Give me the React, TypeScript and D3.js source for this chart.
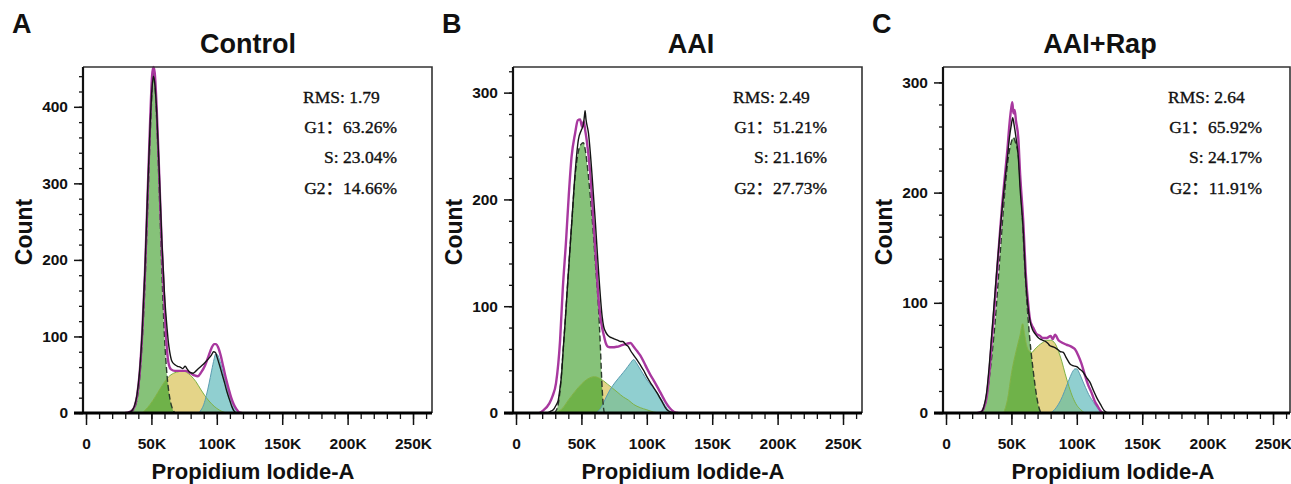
import React, { useEffect, useRef } from 'react';
import * as d3 from 'd3';

type Pt = [number, number];

// x in thousands (K) of Propidium Iodide-A, y = count

// A - Control
const controlFit: Pt[] = [[30,0],[33,1],[35,3],[37,8],[39,22],[41,52],[43,105],[45,180],[47,280],[49,380],[50.5,440],[51.5,452],[52.5,445],[54,400],[56,310],[58,215],[60,140],[61.5,92],[62.5,72],[63.5,62],[65,57],[68,55],[72,55],[76,55],[80,52],[83,49],[85.5,48],[88,53],[91,62],[94,76],[96,85],[98,90],[99.5,90],[101,86],[103,75],[105,60],[107,45],[109,32],[111,20],[113,11],[115,5],[117,1],[119,0]];
const controlData: Pt[] = [[30,0],[33,1],[35,3],[37,9],[39,24],[41,55],[43,108],[45,185],[47,285],[49,375],[50.5,425],[51.5,440],[52.5,432],[54,395],[56,315],[58,225],[60,155],[62,110],[63,92],[64,80],[65.6,68],[68,63],[70,61],[72,60],[74,58],[75.8,61],[77.5,57],[79.6,53],[82,52],[83.5,54],[86,58],[88.6,62],[91,66],[93.7,71],[96,76],[97.5,80],[99,79],[100,74],[102,63],[104,51],[106,39],[107.7,28],[110,16],[111.6,8],[113,3],[115,0]];
const controlG1: Pt[] = [[33,0],[35,2],[37,6],[39,18],[41,45],[43,95],[45,165],[47,260],[49,360],[50.5,420],[51.5,445],[52.5,435],[54,385],[56,290],[58,185],[60,100],[62,48],[64,20],[66,6],[68,0]];
const controlS: Pt[] = [[43,0],[47,7],[51,16],[55,27],[59,38],[63,47],[67,52],[71,54],[74,55],[77,53],[80,49],[84,41],[88,30],[92,20],[96,12],[100,6],[104,2],[108,0]];
const controlG2: Pt[] = [[86,0],[88,4],[90,11],[92,23],[94,38],[96,55],[98,71],[99,77],[100,77],[102,70],[104,58],[106,45],[108,33],[110,22],[112,13],[114,6],[116,2],[118,0]];
const controlStats = ['RMS: 1.79', 'G1：63.26%', 'S: 23.04%', 'G2：14.66%'];

// B - AAI
const aaiFit: Pt[] = [[18,0],[20.4,2],[25.5,9],[28,16],[30.6,28],[33.7,68],[35.7,115],[38.3,162],[40.3,203],[42.5,240],[45.2,262],[47.2,274],[49,275],[50.5,268],[51.8,273],[53,264],[54.1,255],[56.7,225],[59.3,178],[61.8,131],[63,108],[64.3,92],[65.5,82],[66.9,74],[68.5,66],[70.5,62],[73,61.5],[77,62],[81,63.5],[85,65],[87.5,65.5],[90,62],[92.5,58],[95,54],[98,47],[100,42],[102.6,36],[106,29],[110,20],[114,11],[118,4],[121,1],[124,0]];
const aaiData: Pt[] = [[24,0],[27,2],[28.5,3],[30.5,7],[32.3,12],[33.5,22],[34.9,37],[36,58],[37.5,84],[40,131],[42.6,178],[45.2,225],[47.7,256],[50,265],[51.5,270],[52.3,278],[52.8,283],[53.5,275],[55.4,262],[58,225],[60.7,178],[63.2,131],[65.9,90],[67,81],[68.5,76],[70,73],[72,71],[74,70],[76,69],[78,68],[80,67],[81.7,67],[84,64],[86,62],[87.3,59],[90,54],[92.4,50],[95,45],[97.5,40],[100,34],[104,26],[107.7,19],[111,12],[115.4,3],[118,1],[121,0]];
const aaiG1: Pt[] = [[29,0],[31,3],[32.5,10],[34,25],[35.5,50],[37.5,84],[40,131],[42.6,178],[45.2,222],[47.7,245],[50,252],[51.5,253],[53,246],[55,226],[57,200],[59,170],[61,135],[63,100],[64.5,62],[65.5,32],[66.5,10],[67.5,0]];
const aaiS: Pt[] = [[30,0],[36,5],[40,12],[45,20],[50,27],[55,32],[60,34],[63,33],[67,30],[70,27],[74,23],[78,19],[82,15],[86,12],[90,8],[95,5],[100,3],[105,1],[110,0]];
const aaiG2: Pt[] = [[61,0],[65,5],[69,15],[72,22],[76,29],[80,35],[84,41],[87,46],[90,50],[92,47],[94,43],[97,37],[100,31],[104,25],[108,19],[111,13],[114,7],[117,2],[119,0]];
const aaiStats = ['RMS: 2.49', 'G1：51.21%', 'S: 21.16%', 'G2：27.73%'];

// C - AAI+Rap
const rapFit: Pt[] = [[24,0],[27,1],[29,5],[31,14],[33,35],[35,65],[37,95],[38.8,125],[41,160],[43,190],[45,215],[47,240],[48.5,262],[49.8,276],[50.7,282],[51.5,272],[52.5,275],[53.5,265],[55.3,249],[56.6,218],[59.1,173],[60.9,128],[63,97],[64.2,85],[65.5,80],[66.8,77],[69,72],[71.9,70],[74,68],[77,68],[80,70],[81.5,67],[83.4,71],[86,66],[88.5,64],[92,62],[96.1,60],[98.5,58],[101.2,52],[103.5,45],[106.3,34],[108.5,26],[111.4,18],[114,10],[116,6],[118,2],[120,0]];
const rapData: Pt[] = [[24,0],[27,1],[29,6],[31,18],[33,42],[35,72],[37,102],[39,132],[41,160],[43,187],[45,210],[47,232],[48.5,250],[50,262],[51,268],[52,262],[53.5,250],[55.3,232],[56.6,205],[59.1,165],[60.9,122],[63,93],[64.5,82],[66,76],[68,72],[70,69],[72,67],[74,66],[76,65],[78,63],[79.5,61],[82,60],[85,58],[87,56],[89.7,55],[92,50],[94.8,44.5],[97,43],[99.9,42],[102,40],[104.9,37],[107,33],[110,28],[112.5,21],[115.2,14],[118,8],[121,2],[124,0]];
const rapG1: Pt[] = [[27,0],[29.8,7],[33.6,37],[37.5,82],[41.3,143],[45.1,203],[48,235],[50,246],[51.5,250],[53,246],[55.3,233],[57.9,188],[60.4,128],[63,82],[66.8,37],[70.6,7],[72.5,0]];
const rapS: Pt[] = [[44,0],[47,12],[50.2,37],[54,58],[56.5,70],[58.6,81],[60,72],[61.5,62],[63,57],[65.6,55],[68,58],[70.6,61],[74,64],[77,66],[80,66],[83.4,63],[86,56],[88.5,47],[91,36],[94,24],[97,14],[100,7],[103,3],[106,0]];
const rapG2: Pt[] = [[80,0],[83,3],[86,8],[89,15],[92,24],[95,33],[97,38],[98.6,40],[100,40],[102,36],[104.5,29],[106.7,23],[109,17],[111.5,12],[114.3,7],[117,3],[119.5,1],[122,0]];
const rapStats = ['RMS: 2.64', 'G1：65.92%', 'S: 24.17%', 'G2：11.91%'];

// axes
const xMajorTicks = [0, 50, 100, 150, 200, 250];
const xTickLabels = ['0', '50K', '100K', '150K', '200K', '250K'];
const xMinorTicks = d3.range(0, 261, 10);
const yMajorA = [0, 100, 200, 300, 400];
const yMajorBC = [0, 100, 200, 300];

const panelLetters = ['A', 'B', 'C'];
const panelTitles = ['Control', 'AAI', 'AAI+Rap'];

// layout (pixels)
const panels = [
  { left: 83, width: 349, yMax: 452, yMajor: yMajorA, titleX: 248, statEnd: 397, fit: controlFit, data: controlData, g1: controlG1, s: controlS, g2: controlG2, stats: controlStats },
  { left: 513, width: 349, yMax: 324, yMajor: yMajorBC, titleX: 691, statEnd: 827, fit: aaiFit, data: aaiData, g1: aaiG1, s: aaiS, g2: aaiG2, stats: aaiStats },
  { left: 943, width: 347, yMax: 314, yMajor: yMajorBC, titleX: 1100, statEnd: 1262, fit: rapFit, data: rapData, g1: rapG1, s: rapS, g2: rapG2, stats: rapStats },
];
const top = 67;
const bottom = 413;

const sans = '"Liberation Sans", Arial, Helvetica, sans-serif';
const serif = '"Liberation Serif", "Times New Roman", "Noto Sans CJK SC", serif';

const App = () => {
  const ref = useRef<SVGSVGElement>(null);

  useEffect(() => {
    const svg = d3.select(ref.current);
    svg.selectAll('*').remove();

    panels.forEach((p, i) => {
      const g = svg.append('g');
      const right = p.left + p.width;

      const x = d3.scaleLinear()
        .domain([-2.3, -2.3 + p.width / 1.308])
        .range([p.left, right]);
      const y = d3.scaleLinear()
        .domain([0, p.yMax])
        .range([bottom, top]);

      const area = d3.area<Pt>()
        .x(d => x(d[0]))
        .y0(y(0))
        .y1(d => y(d[1]))
        .curve(d3.curveMonotoneX);
      const line = d3.line<Pt>()
        .x(d => x(d[0]))
        .y(d => y(d[1]))
        .curve(d3.curveMonotoneX);

      // clip paths for the overlapping phases
      const defs = g.append('defs');
      defs.append('clipPath').attr('id', `g1clip${i}`)
        .append('path').attr('d', area(p.g1));
      defs.append('clipPath').attr('id', `g2clip${i}`)
        .append('path').attr('d', area(p.g2));

      // fills
      g.append('path').attr('d', area(p.g1)).attr('fill', '#86c279');
      g.append('path').attr('d', area(p.s)).attr('fill', '#e4d488');
      g.append('path').attr('d', area(p.g2)).attr('fill', '#90cfd0');
      g.append('path').attr('d', area(p.s)).attr('fill', '#6fb249')
        .attr('clip-path', `url(#g1clip${i})`);
      g.append('path').attr('d', area(p.s)).attr('fill', '#86c3a0')
        .attr('clip-path', `url(#g2clip${i})`);

      // component outlines
      g.append('path').attr('d', line(p.s)).attr('fill', 'none')
        .attr('stroke', '#7fb246').attr('stroke-width', 1);
      g.append('path').attr('d', line(p.g2)).attr('fill', 'none')
        .attr('stroke', '#5a9cb0').attr('stroke-width', 1);
      g.append('path').attr('d', line(p.g1)).attr('fill', 'none')
        .attr('stroke', '#2b3a2b').attr('stroke-width', 1.4)
        .attr('stroke-dasharray', '6 3');

      // fit and data
      g.append('path').attr('d', line(p.fit)).attr('fill', 'none')
        .attr('stroke', '#a8389f').attr('stroke-width', 2.4);
      g.append('path').attr('d', line(p.data)).attr('fill', 'none')
        .attr('stroke', '#151515').attr('stroke-width', 1.4);

      // frame
      g.append('path')
        .attr('d', `M${p.left},${top}H${right}V${bottom}`)
        .attr('fill', 'none').attr('stroke', '#333').attr('stroke-width', 1.6);

      // y axis
      const yAxisMinor = d3.axisLeft(y)
        .tickValues(d3.range(0, p.yMax, 20))
        .tickSize(4).tickFormat(() => '');
      g.append('g').attr('transform', `translate(${p.left},0)`).call(yAxisMinor)
        .call(a => a.select('.domain').remove())
        .selectAll('line').attr('stroke', '#111').attr('stroke-width', 1.3);
      const yAxis = d3.axisLeft(y)
        .tickValues(p.yMajor).tickSize(9).tickPadding(6)
        .tickFormat(d => String(d));
      const ya = g.append('g').attr('transform', `translate(${p.left},0)`).call(yAxis);
      ya.select('.domain').remove();
      ya.selectAll('line').attr('stroke', '#111').attr('stroke-width', 1.5);
      ya.selectAll('text').attr('font-family', sans).attr('font-weight', 'bold')
        .attr('font-size', 15.5).attr('fill', '#111');
      g.append('line').attr('x1', p.left).attr('x2', p.left)
        .attr('y1', top).attr('y2', bottom)
        .attr('stroke', '#111').attr('stroke-width', 2.2);

      // x axis
      const xAxisMinor = d3.axisBottom(x)
        .tickValues(xMinorTicks).tickSize(6).tickFormat(() => '');
      g.append('g').attr('transform', `translate(0,${bottom})`).call(xAxisMinor)
        .call(a => a.select('.domain').remove())
        .selectAll('line').attr('stroke', '#111').attr('stroke-width', 1.3);
      const xAxis = d3.axisBottom(x)
        .tickValues(xMajorTicks).tickSize(12).tickPadding(13)
        .tickFormat((d, k) => xTickLabels[k]);
      const xa = g.append('g').attr('transform', `translate(0,${bottom})`).call(xAxis);
      xa.select('.domain').remove();
      xa.selectAll('line').attr('stroke', '#111').attr('stroke-width', 1.5);
      xa.selectAll('text').attr('font-family', sans).attr('font-weight', 'bold')
        .attr('font-size', 15.5).attr('fill', '#111');
      g.append('line').attr('x1', p.left - 9).attr('x2', right)
        .attr('y1', bottom).attr('y2', bottom)
        .attr('stroke', '#000').attr('stroke-width', 3);

      // labels
      g.append('text').attr('x', p.left - 71).attr('y', 33)
        .attr('font-family', sans).attr('font-weight', 'bold').attr('font-size', 27)
        .attr('fill', '#111').text(panelLetters[i]);
      g.append('text').attr('x', p.titleX).attr('y', 53).attr('text-anchor', 'middle')
        .attr('font-family', sans).attr('font-weight', 'bold').attr('font-size', 27)
        .attr('fill', '#111').text(panelTitles[i]);
      g.append('text')
        .attr('transform', `translate(${p.left - 51},${(top + bottom) / 2 - 8}) rotate(-90)`)
        .attr('text-anchor', 'middle')
        .attr('font-family', sans).attr('font-weight', 'bold').attr('font-size', 23)
        .attr('fill', '#111').text('Count');
      g.append('text').attr('x', p.left + 170).attr('y', 479).attr('text-anchor', 'middle')
        .attr('font-family', sans).attr('font-weight', 'bold').attr('font-size', 22)
        .attr('fill', '#111').text('Propidium Iodide-A');

      // stats
      p.stats.forEach((s, k) => {
        g.append('text')
          .attr('x', k === 0 ? p.statEnd - 94 : p.statEnd)
          .attr('y', 103 + k * 30.2)
          .attr('text-anchor', k === 0 ? 'start' : 'end')
          .attr('font-family', serif).attr('font-size', 17.5)
          .attr('fill', '#111').attr('stroke', '#111').attr('stroke-width', 0.35)
          .text(s);
      });
    });
  }, []);

  return (
    <svg ref={ref} width={1291} height={484}
      style={{ position: 'absolute', left: 0, top: 0, background: '#fff' }} />
  );
};

export default App;
